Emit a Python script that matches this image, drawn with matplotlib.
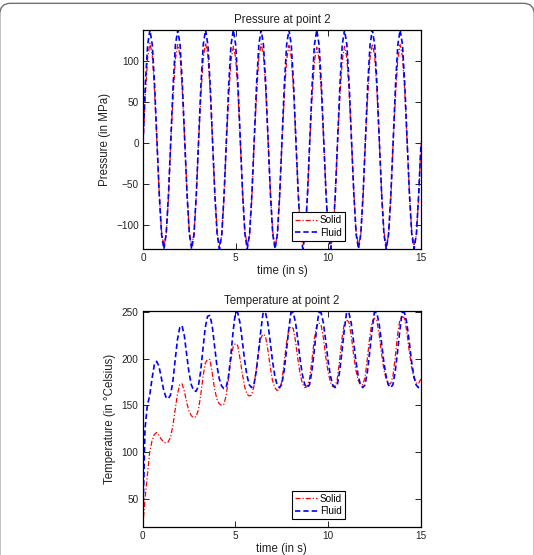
import numpy as np
import matplotlib
matplotlib.use('Agg')
import matplotlib.pyplot as plt
from matplotlib.patches import FancyBboxPatch

plt.rcParams['font.family'] = ['Liberation Sans', 'DejaVu Sans']

# sample times (s), one reading every 0.125 s
time = np.linspace(0, 15, 121)

# pressure at point 2 (MPa)
solid_pressure = [
    0, 58, 104, 122, 107, 63, 2, -60, -108, -126, -112, -66,
    2, 58, 103, 120, 106, 62, 2, -60, -108, -125, -112, -66,
    2, 59, 104, 122, 107, 63, 2, -60, -108, -126, -112, -66,
    2, 57, 101, 118, 104, 61, 2, -60, -108, -125, -112, -66,
    2, 58, 104, 121, 107, 63, 2, -60, -108, -126, -112, -66,
    2, 58, 102, 119, 105, 62, 2, -60, -108, -125, -112, -66,
    2, 57, 100, 117, 103, 61, 2, -60, -108, -126, -112, -66,
    2, 57, 101, 118, 104, 61, 2, -60, -108, -125, -112, -66,
    2, 58, 104, 121, 107, 63, 2, -60, -108, -126, -112, -66,
    2, 58, 103, 120, 106, 62, 2, -60, -108, -125, -112, -66,
    2]
fluid_pressure = [
    0, 71, 120, 138, 120, 71, 4, -62, -111, -129, -111, -62,
    4, 71, 120, 138, 120, 71, 4, -62, -111, -129, -111, -62,
    4, 71, 120, 138, 120, 71, 4, -62, -111, -129, -111, -62,
    4, 71, 120, 138, 120, 71, 4, -62, -111, -129, -111, -62,
    4, 71, 120, 138, 120, 71, 4, -62, -111, -129, -111, -62,
    4, 71, 120, 138, 120, 71, 4, -62, -111, -129, -111, -62,
    4, 71, 120, 138, 120, 71, 4, -62, -111, -129, -111, -62,
    4, 71, 120, 138, 120, 71, 4, -62, -111, -129, -111, -62,
    4, 71, 120, 138, 120, 71, 4, -62, -111, -129, -111, -62,
    4, 71, 120, 138, 120, 71, 4, -62, -111, -129, -111, -62,
    0]

# temperature at point 2 (Celsius)
solid_temp = [
    20, 50, 75, 100, 112, 119, 121, 118, 114, 111, 110, 111,
    116, 128, 145, 162, 172, 173, 165, 153, 144, 139, 137, 138,
    145, 160, 180, 195, 199, 199, 185, 168, 157, 152, 150, 151,
    160, 178, 198, 212, 216, 214, 200, 184, 170, 162, 160, 161,
    170, 188, 208, 222, 226, 224, 210, 192, 177, 169, 166, 167,
    175, 194, 215, 230, 234, 232, 218, 199, 183, 173, 169, 170,
    178, 197, 219, 234, 238, 236, 222, 202, 186, 175, 170, 170,
    178, 198, 221, 237, 241, 239, 225, 205, 188, 177, 172, 172,
    180, 200, 223, 239, 243, 241, 227, 207, 190, 179, 173, 173,
    181, 201, 225, 241, 245, 243, 229, 209, 192, 180, 174, 173,
    178]
fluid_temp = [
    20, 125, 150, 160, 178, 193, 197, 192, 180, 167, 159, 157,
    161, 175, 198, 220, 233, 235, 224, 204, 185, 172, 166, 165,
    170, 186, 210, 233, 245, 246, 235, 214, 193, 179, 171, 168,
    169, 180, 202, 228,
    249, 249, 238, 219, 198, 182, 172, 169, 172, 186, 207, 230,
    249, 249, 238, 219, 198, 182, 172, 169, 172, 186, 207, 230,
    249, 249, 238, 219, 198, 182, 172, 169, 172, 186, 207, 230,
    249, 249, 238, 219, 198, 182, 172, 169, 172, 186, 207, 230,
    249, 249, 238, 219, 198, 182, 172, 169, 172, 186, 207, 230,
    249, 249, 238, 219, 198, 182, 172, 169, 172, 186, 207, 230,
    249, 249, 238, 219, 198, 182, 172, 169, 172]

series_names = ['Solid', 'Fluid']
x_ticks = [0, 5, 10, 15]


def draw_panel(ax, solid, fluid, title, ylabel, ylim, yticks, legend_anchor):
    ax.plot(time, solid, color='red', linestyle=(0, (4, 1.6, 1, 1.6)), linewidth=0.9,
            label=series_names[0])
    ax.plot(time, fluid, color='blue', linestyle=(0, (3.2, 1.8)), linewidth=1.2,
            label=series_names[1])
    ax.set_xlim(0, 15)
    ax.set_ylim(*ylim)
    ax.set_xticks(x_ticks)
    ax.set_yticks(yticks)
    ax.tick_params(direction='in', top=True, right=True, length=4, width=0.6,
                   labelsize=7.2, pad=3, labelcolor='#222222')
    for sp in ax.spines.values():
        sp.set_linewidth(0.9)
    ax.set_title(title, fontsize=8.3, pad=5, color='#222222')
    ax.set_xlabel('time (in s)', fontsize=8.3, labelpad=1, color='#222222')
    ax.set_ylabel(ylabel, fontsize=8.3, labelpad=4, color='#222222')
    leg = ax.legend(loc='lower right', bbox_to_anchor=legend_anchor, fontsize=7.2,
                    fancybox=False, framealpha=1, edgecolor='black',
                    handlelength=2.2, handletextpad=0.3, borderpad=0.3,
                    labelspacing=0.25, borderaxespad=0)
    leg.get_frame().set_linewidth(0.8)


fig = plt.figure(figsize=(5.34, 5.55), dpi=100)
ax1 = fig.add_axes([0.2678, 0.5514, 0.5206, 0.3946])
ax2 = fig.add_axes([0.2672, 0.0499, 0.5206, 0.3903])

draw_panel(ax1, solid_pressure, fluid_pressure, 'Pressure at point 2',
           'Pressure (in MPa)', (-129, 138), [-100, -50, 0, 50, 100], (0.727, 0.037))
draw_panel(ax2, solid_temp, fluid_temp, 'Temperature at point 2',
           'Temperature (in °Celsius)', (20, 251), [50, 100, 150, 200, 250], (0.728, 0.038))

# rounded frame around the figure
frame = FancyBboxPatch((-0.0005, -0.05), 1.001, 1.044, boxstyle='round,pad=0,rounding_size=0.02',
                       transform=fig.transFigure, fill=False, edgecolor='#707070',
                       linewidth=1.0, clip_on=False)
fig.patches.append(frame)

fig.savefig('out.png', dpi=100)
